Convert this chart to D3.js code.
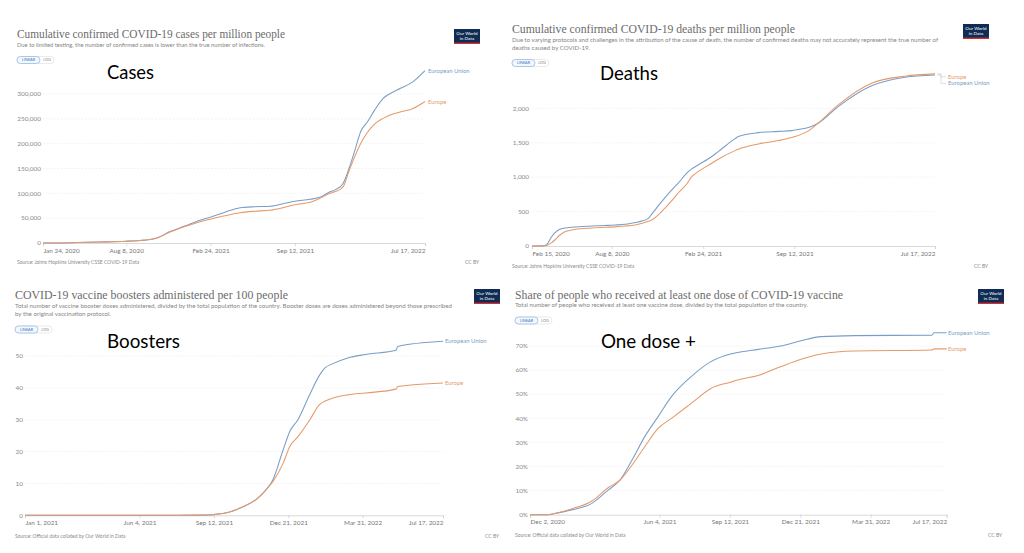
<!DOCTYPE html>
<html><head><meta charset="utf-8">
<script src="https://cdn.jsdelivr.net/npm/d3@7"></script>
<style>html,body{margin:0;padding:0;background:#fff;} svg{display:block}</style>
</head><body><svg id="c" width="1024" height="553"></svg>
<script>
// ---------- DATA ----------
const seriesNames = ["European Union", "Europe"];

const casesDates = ["2020-01-24","2020-03-01","2020-04-15","2020-06-07","2020-08-08","2020-09-10","2020-10-03","2020-10-20","2020-11-20","2020-12-25","2021-01-30","2021-02-24","2021-03-30","2021-05-05","2021-06-09","2021-07-15","2021-08-19","2021-09-12","2021-10-18","2021-11-10","2021-12-04","2021-12-18","2022-01-04","2022-01-18","2022-02-01","2022-02-15","2022-03-02","2022-03-20","2022-04-09","2022-04-30","2022-05-19","2022-06-19","2022-07-17"];
const casesEU = [0,50,1000,2000,3500,5000,7000,10000,23000,34000,46000,52000,62000,71000,73000,74000,80000,84000,88000,92000,103000,108000,120000,150000,187000,225000,243000,268000,291000,303000,311000,325000,347000];
const casesEurope = [0,50,1000,2000,3500,5000,7000,10000,22000,33000,43000,48000,55000,61000,64000,66000,72000,77000,82000,90000,100000,104000,113000,145000,175000,201000,222000,240000,251000,259000,264000,271000,285000];
const casesXTicks = ["2020-01-24","2020-08-08","2021-02-24","2021-09-12","2022-07-17"];
const casesYTicks = [0,50000,100000,150000,200000,250000,300000];

const deathsDates = ["2020-02-15","2020-03-10","2020-03-18","2020-03-29","2020-04-05","2020-04-16","2020-04-27","2020-05-12","2020-05-20","2020-06-25","2020-07-24","2020-08-15","2020-09-06","2020-09-20","2020-10-05","2020-10-27","2020-11-03","2020-11-25","2020-12-02","2020-12-24","2020-12-31","2021-01-19","2021-01-30","2021-02-13","2021-03-15","2021-03-29","2021-05-05","2021-05-12","2021-06-25","2021-08-08","2021-09-06","2021-09-13","2021-10-16","2021-11-03","2021-12-17","2022-02-28","2022-05-12","2022-07-17"];
const deathsEU = [0,2,20,135,190,243,260,272,276,290,298,305,315,330,350,402,460,644,700,862,910,1057,1120,1177,1300,1371,1560,1589,1647,1665,1676,1685,1730,1784,2025,2326,2452,2485];
const deathsEurope = [0,1,8,50,87,160,208,232,243,262,272,278,290,298,315,360,378,500,548,710,766,900,1007,1080,1202,1260,1385,1405,1483,1531,1575,1589,1686,1784,2050,2365,2467,2500];
const deathsXTicks = ["2020-02-15","2020-08-08","2021-02-24","2021-09-12","2022-07-17"];
const deathsYTicks = [0,500,1000,1500,2000];

const boostDates = ["2021-01-01","2021-07-20","2021-08-29","2021-09-11","2021-10-03","2021-10-21","2021-11-08","2021-11-21","2021-11-30","2021-12-14","2021-12-23","2022-01-03","2022-01-19","2022-02-01","2022-02-08","2022-02-19","2022-03-11","2022-04-04","2022-05-15","2022-05-17","2022-07-17"];
const boostEU = [0,0,0.05,0.2,1.0,2.7,5.0,8.0,11,20.5,26.3,30,38,44,46.2,47.6,49.4,50.5,51.8,53.0,54.6];
const boostEurope = [0,0,0.05,0.2,1.0,2.7,5.0,8.0,10.5,16.3,21.6,24.7,30,34.7,35.8,36.8,37.8,38.4,39.6,40.4,41.5];
const boostXTicks = ["2021-01-01","2021-06-04","2021-09-12","2021-12-21","2022-03-31","2022-07-17"];
const boostYTicks = [0,10,20,30,40,50];

const doseDates = ["2020-12-02","2020-12-27","2021-01-06","2021-01-30","2021-02-28","2021-03-23","2021-04-09","2021-04-26","2021-05-14","2021-06-02","2021-06-21","2021-07-19","2021-08-16","2021-09-13","2021-09-23","2021-10-22","2021-11-23","2021-12-22","2022-01-20","2022-03-08","2022-06-26","2022-06-29","2022-07-17"];
const doseEU = [0,0,0.5,2.0,4.7,10.2,14.4,22.7,32.4,40.7,49,57.3,63.5,66.7,67.3,68.6,70,72.2,73.9,74.3,74.5,75.5,75.5];
const doseEurope = [0,0,0.5,2.4,5.7,11.2,14.4,20.6,28.2,35.8,40,46.2,52.4,55,55.9,57.8,61.4,64.5,66.7,67.9,68.3,68.8,68.8];
const doseXTicks = ["2020-12-02","2021-06-04","2021-09-12","2021-12-21","2022-03-31","2022-07-17"];
const doseYTicks = [0,10,20,30,40,50,60,70];

// ---------- DRAWING ----------
const parse = d3.utcParse("%Y-%m-%d");
const fmtDate = d3.utcFormat("%b %-d, %Y");
const colors = {"European Union": "#7a9dc7", "Europe": "#e5996a"};
const svg = d3.select("#c");
const sans = "Lato, 'Open Sans', sans-serif";

function drawPanel(c) {
  const g = svg.append("g");
  // Title
  g.append("text").attr("x", c.tx).attr("y", c.ty)
    .attr("font-family", "'Liberation Serif', 'DejaVu Serif', serif")
    .attr("font-size", 13).attr("fill", "#6b6b6b")
    .attr("textLength", c.tLen).attr("lengthAdjust", "spacingAndGlyphs")
    .text(c.title);
  c.sub.forEach((s, i) => {
    g.append("text").attr("x", c.tx).attr("y", c.subY[i])
      .attr("font-family", sans).attr("font-size", 5.6).attr("fill", "#858585")
      .attr("textLength", c.subLen[i]).attr("lengthAdjust", "spacingAndGlyphs")
      .text(s);
  });
  // LINEAR / LOG buttons
  const b = g.append("g");
  b.append("rect").attr("x", c.btn[0]).attr("y", c.btn[1]).attr("width", 37).attr("height", 7)
    .attr("rx", 3.5).attr("fill", "#fff").attr("stroke", "#dcdcdc").attr("stroke-width", 0.6);
  b.append("rect").attr("x", c.btn[0]).attr("y", c.btn[1]).attr("width", 23).attr("height", 7)
    .attr("rx", 3.5).attr("fill", "#f3f8fe").attr("stroke", "#8db4e2").attr("stroke-width", 0.7);
  b.append("text").attr("x", c.btn[0] + 11.5).attr("y", c.btn[1] + 4.9).attr("text-anchor", "middle")
    .attr("font-family", sans).attr("font-size", 3.8).attr("fill", "#3b73b9").text("LINEAR");
  b.append("text").attr("x", c.btn[0] + 30).attr("y", c.btn[1] + 4.9).attr("text-anchor", "middle")
    .attr("font-family", sans).attr("font-size", 3.8).attr("fill", "#888").text("LOG");
  // Logo
  const lg = g.append("g");
  lg.append("rect").attr("x", c.logo[0]).attr("y", c.logo[1]).attr("width", 26).attr("height", 15).attr("fill", "#0f2c55");
  lg.append("rect").attr("x", c.logo[0]).attr("y", c.logo[1] + 13.6).attr("width", 26).attr("height", 1.4).attr("fill", "#d32f2f");
  lg.append("text").attr("x", c.logo[0] + 13).attr("y", c.logo[1] + 5.8).attr("text-anchor", "middle")
    .attr("font-family", sans).attr("font-size", 4.6).attr("fill", "#fff").text("Our World");
  lg.append("text").attr("x", c.logo[0] + 13).attr("y", c.logo[1] + 10.8).attr("text-anchor", "middle")
    .attr("font-family", sans).attr("font-size", 4.6).attr("fill", "#fff").text("in Data");

  // Scales
  const dates = c.dates.map(parse);
  const x = d3.scaleUtc().domain([dates[0], dates[dates.length - 1]]).range(c.xr);
  const y = d3.scaleLinear().domain(c.yDom).range(c.yRange);

  // Grid + y labels
  c.yTicks.forEach(v => {
    if (v !== 0) {
      g.append("line").attr("x1", c.xr[0]).attr("x2", c.xr[1]).attr("y1", y(v)).attr("y2", y(v))
        .attr("stroke", "#ececec").attr("stroke-width", 0.6).attr("stroke-dasharray", "2,1.5");
    }
    g.append("text").attr("x", c.yLabX).attr("y", y(v)).attr("dy", "0.35em").attr("text-anchor", "end")
      .attr("font-family", sans).attr("font-size", 6.4).attr("fill", "#8a8a8a").text(c.yFmt(v));
  });
  // x axis
  const xAxis = d3.axisBottom(x).tickValues(c.xTicks.map(parse)).tickFormat(fmtDate).tickSize(3).tickPadding(2);
  const ax = g.append("g").attr("transform", `translate(0,${y(0)})`).call(xAxis);
  ax.select(".domain").attr("stroke", "#cfcfcf").attr("stroke-width", 0.8);
  ax.selectAll(".tick line").attr("stroke", "#cfcfcf").attr("stroke-width", 0.7);
  const n = c.xTicks.length;
  ax.selectAll(".tick text").attr("font-family", sans).attr("font-size", 6.4).attr("fill", "#777")
    .attr("text-anchor", (d, i) => i === 0 ? "start" : (i === n - 1 ? "end" : "middle"));

  // Lines
  const series = [
    {name: seriesNames[0], vals: c.eu},
    {name: seriesNames[1], vals: c.eur}
  ];
  const line = d3.line().x((d, i) => x(dates[i])).y(d => y(d)).curve(d3.curveMonotoneX);
  series.forEach(s => {
    g.append("path").attr("d", line(s.vals)).attr("fill", "none")
      .attr("stroke", colors[s.name]).attr("stroke-width", 1.05).attr("stroke-linejoin", "round");
  });

  // End labels with collision avoidance
  const ends = series.map(s => ({name: s.name, yEnd: y(s.vals[s.vals.length - 1])}))
    .sort((a, b) => a.yEnd - b.yEnd);
  let conflict = false;
  for (let i = 1; i < ends.length; i++) if (ends[i].yEnd - ends[i - 1].yEnd < 7) conflict = true;
  if (conflict) {
    ends.forEach((e, i) => e.yLab = ends[0].yEnd + 3 + i * 6.5);
  } else ends.forEach(e => e.yLab = e.yEnd);
  const xEnd = c.xr[1];
  ends.forEach(e => {
    if (conflict) {
      g.append("polyline").attr("points",
        `${xEnd + 2},${e.yEnd} ${xEnd + 6},${e.yEnd} ${xEnd + 6},${e.yLab} ${c.labX - 2},${e.yLab}`)
        .attr("fill", "none").attr("stroke", "#c9c9c9").attr("stroke-width", 0.6);
    }
    g.append("text").attr("x", c.labX).attr("y", e.yLab).attr("dy", "0.35em")
      .attr("font-family", sans).attr("font-size", 5.9).attr("fill", colors[e.name]).text(e.name);
  });

  // Source / licence
  g.append("text").attr("x", c.tx).attr("y", c.srcY).attr("font-family", sans).attr("font-size", 5)
    .attr("fill", "#8a8a8a").text(c.source);
  g.append("text").attr("x", c.ccX).attr("y", c.srcY).attr("font-family", sans).attr("font-size", 5)
    .attr("fill", "#8a8a8a").text("CC BY");

  // Big annotation label
  g.append("text").attr("x", c.big[0]).attr("y", c.big[1])
    .attr("font-family", "Lato, 'Open Sans', sans-serif").attr("font-size", 19).attr("fill", "#000")
    .attr("textLength", c.big[2]).attr("lengthAdjust", "spacingAndGlyphs").text(c.bigText);
}

const fmtComma = d3.format(",");

drawPanel({
  title: "Cumulative confirmed COVID-19 cases per million people", tx: 17, ty: 38, tLen: 268,
  sub: ["Due to limited testing, the number of confirmed cases is lower than the true number of infections."],
  subY: [47], subLen: [248],
  btn: [17, 56.5], logo: [454, 29],
  dates: casesDates, eu: casesEU, eur: casesEurope, xTicks: casesXTicks, yTicks: casesYTicks,
  xr: [43, 425], yDom: [0, 300000], yRange: [243, 94], yLabX: 41, yFmt: fmtComma, labX: 428,
  source: "Source: Johns Hopkins University CSSE COVID-19 Data", srcY: 264, ccX: 465,
  bigText: "Cases", big: [107, 78.5, 47]
});
drawPanel({
  title: "Cumulative confirmed COVID-19 deaths per million people", tx: 512, ty: 33, tLen: 283,
  sub: ["Due to varying protocols and challenges in the attribution of the cause of death, the number of confirmed deaths may not accurately represent the true number of",
        "deaths caused by COVID-19."],
  subY: [42, 49.5], subLen: [426, 78],
  btn: [512, 59.5], logo: [963, 24],
  dates: deathsDates, eu: deathsEU, eur: deathsEurope, xTicks: deathsXTicks, yTicks: deathsYTicks,
  xr: [532, 935], yDom: [0, 2000], yRange: [246, 108.3], yLabX: 529, yFmt: fmtComma, labX: 948,
  source: "Source: Johns Hopkins University CSSE COVID-19 Data", srcY: 268, ccX: 974,
  bigText: "Deaths", big: [600, 80, 58]
});
drawPanel({
  title: "COVID-19 vaccine boosters administered per 100 people", tx: 15, ty: 299, tLen: 273,
  sub: ["Total number of vaccine booster doses administered, divided by the total population of the country. Booster doses are doses administered beyond those prescribed",
        "by the original vaccination protocol."],
  subY: [307.5, 315.5], subLen: [437, 96],
  btn: [15, 326], logo: [474, 289],
  dates: boostDates, eu: boostEU, eur: boostEurope, xTicks: boostXTicks, yTicks: boostYTicks,
  xr: [25, 443], yDom: [0, 50], yRange: [515.3, 356], yLabX: 23, yFmt: d => String(d), labX: 445,
  source: "Source: Official data collated by Our World in Data", srcY: 538, ccX: 485,
  bigText: "Boosters", big: [107, 347.5, 73]
});
drawPanel({
  title: "Share of people who received at least one dose of COVID-19 vaccine", tx: 515, ty: 299, tLen: 328,
  sub: ["Total number of people who received at least one vaccine dose, divided by the total population of the country."],
  subY: [307], subLen: [293],
  btn: [515, 317], logo: [978, 289],
  dates: doseDates, eu: doseEU, eur: doseEurope, xTicks: doseXTicks, yTicks: doseYTicks,
  xr: [530, 946.7], yDom: [0, 70], yRange: [514.7, 346], yLabX: 528, yFmt: d => d + "%", labX: 948,
  source: "Source: Official data collated by Our World in Data", srcY: 537, ccX: 988,
  bigText: "One dose +", big: [601, 347.5, 95]
});
</script>
</body></html>
